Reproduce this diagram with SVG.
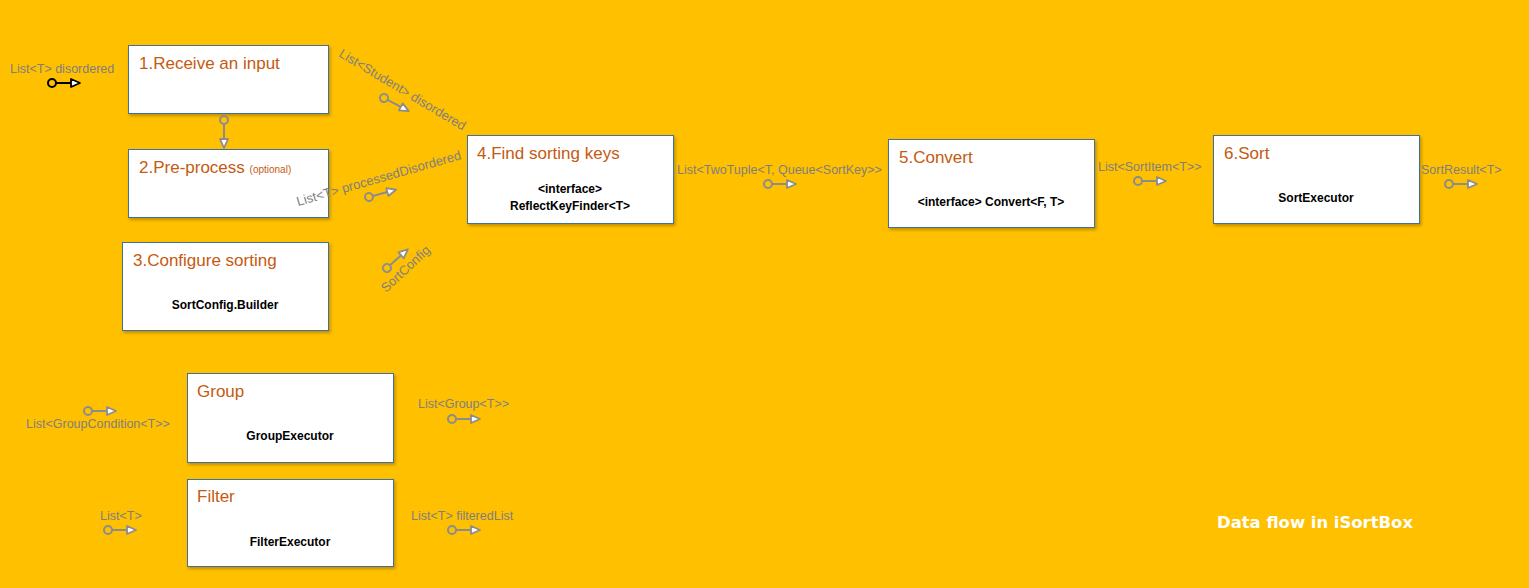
<svg xmlns="http://www.w3.org/2000/svg" xmlns:xlink="http://www.w3.org/1999/xlink" width="1529" height="588" viewBox="0 0 1529 588">
<style>
.bg{fill:#FFC000}
.box{fill:#fff;stroke:#41719C;stroke-width:1}
.title{font-family:"Liberation Sans",Arial,sans-serif;font-size:17px;fill:#C55A11}
.opt{font-size:10px}
.sub{font-family:"Liberation Sans",Arial,sans-serif;font-size:12px;font-weight:bold;fill:#000;text-anchor:middle}
.lbl{font-family:"Liberation Sans",Arial,sans-serif;font-size:12.5px;fill:#7F7F7F}
.rl{font-size:13px}
.gray{stroke:#8C8C8C}
.black{stroke:#000}
.caption{font-family:"DejaVu Sans",sans-serif;font-weight:bold;font-size:16px;fill:#fff}
</style>
<defs>
<filter id="sh" x="-5%" y="-5%" width="112%" height="115%">
<feDropShadow dx="1.5" dy="2" stdDeviation="1.5" flood-color="#000" flood-opacity="0.25"/>
</filter>
<g id="flow" stroke-width="2">
<circle cx="0" cy="0" r="4" fill="none"/>
<line x1="4" y1="0" x2="20" y2="0"/>
<path d="M19,-4 L28,0 L19,4 Z" fill="#fff" stroke-width="1.8" stroke-linejoin="round"/>
</g>
</defs>
<rect class="bg" x="0" y="0" width="1529" height="588"/>

<g id="n1">
<rect class="box" filter="url(#sh)" x="128.5" y="45.5" width="200" height="68"/>
<text class="title" x="139" y="69">1.Receive an input</text>
</g>
<g id="n2">
<rect class="box" filter="url(#sh)" x="128.5" y="149.5" width="200" height="68"/>
<text class="title" x="139" y="173">2.Pre-process <tspan class="opt">(optional)</tspan></text>
</g>
<g id="n3">
<rect class="box" filter="url(#sh)" x="122.5" y="242.5" width="206" height="88"/>
<text class="title" x="133" y="266">3.Configure sorting</text>
<text class="sub" x="225" y="309">SortConfig.Builder</text>
</g>
<g id="n4">
<rect class="box" filter="url(#sh)" x="467.5" y="135.5" width="206" height="88"/>
<text class="title" x="477" y="159">4.Find sorting keys</text>
<text class="sub" x="570" y="193">&lt;interface&gt;</text>
<text class="sub" x="570" y="210">ReflectKeyFinder&lt;T&gt;</text>
</g>
<g id="n5">
<rect class="box" filter="url(#sh)" x="888.5" y="139.5" width="206" height="88"/>
<text class="title" x="899" y="163">5.Convert</text>
<text class="sub" x="991" y="206">&lt;interface&gt; Convert&lt;F, T&gt;</text>
</g>
<g id="n6">
<rect class="box" filter="url(#sh)" x="1213.5" y="135.5" width="206" height="88"/>
<text class="title" x="1224" y="159">6.Sort</text>
<text class="sub" x="1316" y="202">SortExecutor</text>
</g>
<g id="group">
<rect class="box" filter="url(#sh)" x="187.5" y="373.5" width="206" height="89"/>
<text class="title" x="197" y="397">Group</text>
<text class="sub" x="290" y="440">GroupExecutor</text>
</g>
<g id="filter">
<rect class="box" filter="url(#sh)" x="187.5" y="479.5" width="206" height="87"/>
<text class="title" x="197" y="502">Filter</text>
<text class="sub" x="290" y="546">FilterExecutor</text>
</g>

<g id="connectors">
<text class="lbl" x="10" y="73">List&lt;T&gt; disordered</text>
<use xlink:href="#flow" href="#flow" class="black" transform="translate(52,83)"/>

<use xlink:href="#flow" href="#flow" class="gray" transform="translate(224,120) rotate(90)"/>

<text class="lbl rl" x="338" y="56" transform="rotate(31 338 56)">List&lt;Student&gt; disordered</text>
<use xlink:href="#flow" href="#flow" class="gray" transform="translate(384,98) rotate(28)"/>

<text class="lbl rl" x="298" y="206" transform="rotate(-16 298 206)">List&lt;T&gt; processedDisordered</text>
<use xlink:href="#flow" href="#flow" class="gray" transform="translate(369,197) rotate(-15)"/>

<text class="lbl rl" x="386" y="293" transform="rotate(-43 386 293)">SortConfig</text>
<use xlink:href="#flow" href="#flow" class="gray" transform="translate(387,268) rotate(-42)"/>

<text class="lbl" x="677" y="174">List&lt;TwoTuple&lt;T, Queue&lt;SortKey&gt;&gt;</text>
<use xlink:href="#flow" href="#flow" class="gray" transform="translate(768,184)"/>

<text class="lbl" x="1098" y="171">List&lt;SortItem&lt;T&gt;&gt;</text>
<use xlink:href="#flow" href="#flow" class="gray" transform="translate(1138,181)"/>

<text class="lbl" x="1421" y="174">SortResult&lt;T&gt;</text>
<use xlink:href="#flow" href="#flow" class="gray" transform="translate(1449,184)"/>

<use xlink:href="#flow" href="#flow" class="gray" transform="translate(88,411)"/>
<text class="lbl" x="26" y="428">List&lt;GroupCondition&lt;T&gt;&gt;</text>

<text class="lbl" x="418" y="408">List&lt;Group&lt;T&gt;&gt;</text>
<use xlink:href="#flow" href="#flow" class="gray" transform="translate(452,419)"/>

<text class="lbl" x="100" y="520">List&lt;T&gt;</text>
<use xlink:href="#flow" href="#flow" class="gray" transform="translate(108,530)"/>

<text class="lbl" x="411" y="520">List&lt;T&gt; filteredList</text>
<use xlink:href="#flow" href="#flow" class="gray" transform="translate(452,530)"/>
</g>

<text class="caption" x="1217" y="528" textLength="196" lengthAdjust="spacingAndGlyphs">Data flow in iSortBox</text>
</svg>
